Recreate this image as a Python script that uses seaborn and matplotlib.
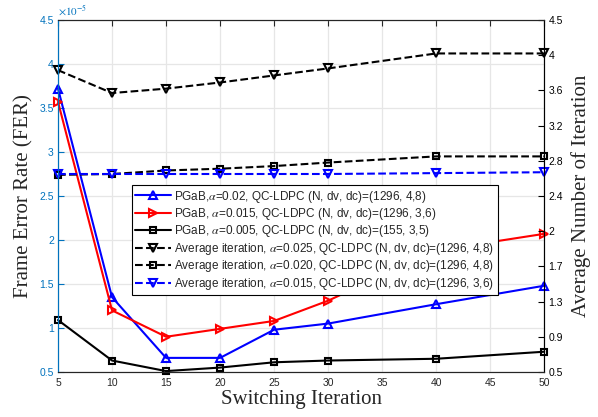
import numpy as np
import matplotlib
matplotlib.use('Agg')
import matplotlib.pyplot as plt
import matplotlib.ticker as mticker
import seaborn as sns

# switching iteration
x = [5, 10, 15, 20, 25, 30, 40, 50]

# FER (x 1e-5)
fer_a002 = [3.72, 1.35, 0.66, 0.66, 0.98, 1.05, 1.27, 1.48]
fer_a0015 = [3.57, 1.20, 0.90, 0.99, 1.08, 1.31, 1.88, 2.07]
fer_a0005 = [1.09, 0.63, 0.51, 0.55, 0.61, 0.63, 0.65, 0.73]

# average iteration (right axis)
it_a0025 = [3.93, 3.67, 3.72, 3.79, 3.87, 3.95, 4.12, 4.12]
it_a0020 = [2.74, 2.75, 2.79, 2.81, 2.84, 2.88, 2.95, 2.95]
it_a0015 = [2.75, 2.75, 2.75, 2.75, 2.75, 2.75, 2.76, 2.77]

left_ticks = [0.5, 1, 1.5, 2, 2.5, 3, 3.5, 4, 4.5]
right_ticks = np.linspace(0.5, 4.5, 11)
right_labels = ['0.5', '0.9', '1.3', '1.7', '2', '2.4', '2.8', '3.2', '3.6', '4', '4.5']

sns.set_style('white')
plt.rcParams['font.family'] = ['Liberation Sans', 'DejaVu Sans']
plt.rcParams['mathtext.fontset'] = 'stix'

mblue = '#0072BD'

fig = plt.figure(figsize=(5.98, 4.17), dpi=100)
ax = fig.add_axes([0.097, 0.108, 0.813, 0.844])
ax2 = ax.twinx()

scale = 1e-5


def draw(a, y, color, marker, ms, label, ls='-'):
    sns.lineplot(x=x, y=y, ax=a, color=color, marker=marker, ms=ms, linestyle=ls,
                 lw=1.5, mew=1.5, mec=color, mfc='none', clip_on=False,
                 label=label, legend=False)


draw(ax, np.array(fer_a002) * scale, 'blue', '^', 6,
     r'PGaB,$\alpha$=0.02, QC-LDPC (N, dv, dc)=(1296, 4,8)')
draw(ax, np.array(fer_a0015) * scale, 'red', '>', 6,
     r'PGaB, $\alpha$=0.015, QC-LDPC (N, dv, dc)=(1296, 3,6)')
draw(ax, np.array(fer_a0005) * scale, 'black', 's', 4.5,
     r'PGaB, $\alpha$=0.005, QC-LDPC (N, dv, dc)=(155, 3,5)')

draw(ax2, it_a0025, 'black', 'v', 6,
     r'Average iteration, $\alpha$=0.025, QC-LDPC (N, dv, dc)=(1296, 4,8)', '--')
draw(ax2, it_a0020, 'black', 's', 4.5,
     r'Average iteration, $\alpha$=0.020, QC-LDPC (N, dv, dc)=(1296, 4,8)', '--')
draw(ax2, it_a0015, 'blue', 'v', 6,
     r'Average iteration, $\alpha$=0.015, QC-LDPC (N, dv, dc)=(1296, 3,6)', '--')

ax.set_xlim(5, 50)
ax.set_xticks(range(5, 51, 5))
ax.set_ylim(0.5 * scale, 4.5 * scale)
ax.set_yticks([t * scale for t in left_ticks])
ax.yaxis.set_major_formatter(mticker.FuncFormatter(lambda v, p: f'{v / scale:g}'))
ax.text(0.0, 1.005, r'$\times10^{-5}$', transform=ax.transAxes, color=mblue,
        fontsize=8, ha='left', va='bottom', family='DejaVu Sans')

ax2.set_ylim(0.5, 4.5)
ax2.set_yticks(right_ticks)
ax2.set_yticklabels(right_labels)

ax.grid(True, color='#e6e6e6', lw=0.9)
ax.set_axisbelow(True)

for a in (ax, ax2):
    for s in a.spines.values():
        s.set_linewidth(0.8)
        s.set_color('#262626')
ax.spines['left'].set_color(mblue)
ax2.spines['left'].set_color(mblue)
ax2.spines['right'].set_color('black')

ax.tick_params(axis='x', direction='in', length=4, top=True, labelsize=7.5,
               colors='#262626', pad=4)
ax.tick_params(axis='y', direction='in', length=4, labelsize=7.5, colors=mblue, pad=3)
ax2.tick_params(axis='y', direction='in', length=4, labelsize=7.5, colors='black', pad=3)

serif = ['Liberation Serif', 'DejaVu Serif']
ax.set_xlabel('Switching Iteration', family=serif, fontsize=15, labelpad=2)
ax.set_ylabel('Frame Error Rate (FER)', family=serif, fontsize=15, labelpad=4)
ax2.set_ylabel('Average Number of Iteration', family=serif, fontsize=15, labelpad=6)

h1, l1 = ax.get_legend_handles_labels()
h2, l2 = ax2.get_legend_handles_labels()
leg = ax2.legend(h1 + h2, l1 + l2, loc='upper left', bbox_to_anchor=(0.152, 0.531),
                 borderaxespad=0, fontsize=8.5, frameon=True, fancybox=False,
                 framealpha=1, edgecolor='black', handlelength=3.0, labelspacing=0.12,
                 handletextpad=0.3, borderpad=0.3)
leg.get_frame().set_linewidth(0.8)

fig.savefig('out.png', dpi=100)
